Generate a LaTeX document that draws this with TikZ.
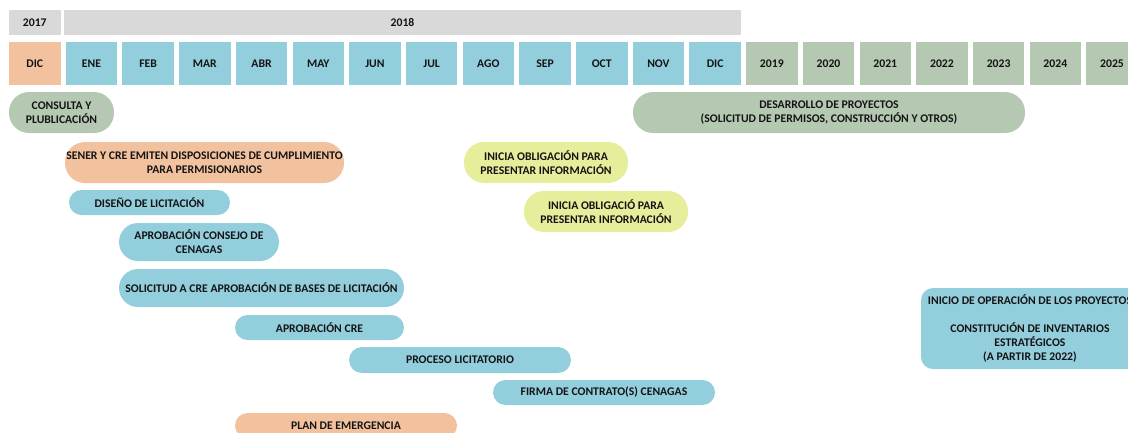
\documentclass[tikz,border=0pt]{standalone}
\usepackage{fontspec}
\setmainfont{Carlito}
\usepackage{tikz}
\usetikzlibrary{positioning}

\definecolor{CelBlue}{HTML}{93CEDC}
\definecolor{CelOrange}{HTML}{F2C19E}
\definecolor{CelGreen}{HTML}{B5C9B2}
\definecolor{CelYellow}{HTML}{E6EE9C}
\definecolor{CelGray}{HTML}{D9D9D9}
\definecolor{TxtDark}{HTML}{141414}

\tikzset{
  cell/.style={rectangle, inner sep=0pt, minimum width=51.5pt, minimum height=43pt},
  head/.style={rectangle, fill=CelGray, inner sep=0pt, minimum height=25pt},
  bar/.style={rectangle, inner sep=0pt, align=center, rounded corners=#1},
  bar/.default=12.5pt
}

\begin{document}
\begin{tikzpicture}[x=1pt, y=-1pt, text=TxtDark,
    font=\bfseries\fontsize{11.7}{14}\selectfont]
  \useasboundingbox (0,0) rectangle (1128,432);
  \clip (0,0) rectangle (1128,432);

  % year header
  \node[head, minimum width=51.5pt] (y2017) at (34.75,22.5) {2017};
  \node[head, minimum width=677pt] (y2018) at (402.5,22.5) {2018};

  % months and years
  \node[cell, fill=CelOrange] (m0) at (34.75,63.5) {DIC};
  \foreach \lbl [count=\i] in {ENE,FEB,MAR,ABR,MAY,JUN,JUL,AGO,SEP,OCT,NOV,DIC} {
    \node[cell, fill=CelBlue] (m\i) at (34.75+56.7*\i,63.5) {\lbl};
  }
  \foreach \lbl [count=\i from 13] in {2019,2020,2021,2022,2023,2024,2025} {
    \node[cell, fill=CelGreen] (m\i) at (34.75+56.7*\i,63.5) {\lbl};
  }

  % activities
  \node[bar=20pt, fill=CelGreen, minimum width=105pt, minimum height=41pt] (consulta) at (61.5,112.5) {CONSULTA Y\\PLUBLICACIÓN};
  \node[bar=20pt, fill=CelGreen, minimum width=392pt, minimum height=41pt] (desarrollo) at (829,112.5) {DESARROLLO DE PROYECTOS\\(SOLICITUD DE PERMISOS, CONSTRUCCIÓN Y OTROS)};
  \node[bar=20pt, fill=CelOrange, minimum width=279pt, minimum height=41pt] (sener) at (204.5,162.5) {SENER Y CRE EMITEN DISPOSICIONES DE CUMPLIMIENTO\\PARA PERMISIONARIOS};
  \node[bar=20pt, fill=CelYellow, minimum width=164pt, minimum height=41pt] (obliga1) at (546,162.5) {INICIA OBLIGACIÓN PARA\\PRESENTAR INFORMACIÓN};
  \node[bar=20pt, fill=CelYellow, minimum width=164pt, minimum height=41pt] (obliga2) at (606,211.5) {INICIA OBLIGACIÓ PARA\\PRESENTAR INFORMACIÓN};
  \node[bar, fill=CelBlue, minimum width=161pt, minimum height=25pt] (diseno) at (149.5,202.5) {DISEÑO DE LICITACIÓN};
  \node[bar=19pt, fill=CelBlue, minimum width=160pt, minimum height=38pt] (consejo) at (199,242) {APROBACIÓN CONSEJO DE\\CENAGAS};
  \node[bar=19pt, fill=CelBlue, minimum width=285pt, minimum height=38pt] (solicitud) at (261.5,288) {SOLICITUD A CRE APROBACIÓN DE BASES DE LICITACIÓN};
  \node[bar, fill=CelBlue, minimum width=169pt, minimum height=25pt] (aprobcre) at (319.5,327.5) {APROBACIÓN CRE};
  \node[bar=13pt, fill=CelBlue, minimum width=222pt, minimum height=26pt] (proceso) at (460,360) {PROCESO LICITATORIO};
  \node[bar, fill=CelBlue, minimum width=222pt, minimum height=25pt] (firma) at (604,392.5) {FIRMA DE CONTRATO(S) CENAGAS};
  \node[bar, fill=CelOrange, minimum width=222pt, minimum height=25pt] (plan) at (346,425.5) {PLAN DE EMERGENCIA};
  \node[bar=12pt, fill=CelBlue, minimum width=218pt, minimum height=81pt] (inicio) at (1030,328.5) {INICIO DE OPERACIÓN DE LOS PROYECTOS\\[14pt]CONSTITUCIÓN DE INVENTARIOS\\ESTRATÉGICOS\\(A PARTIR DE 2022)};
\end{tikzpicture}
\end{document}
